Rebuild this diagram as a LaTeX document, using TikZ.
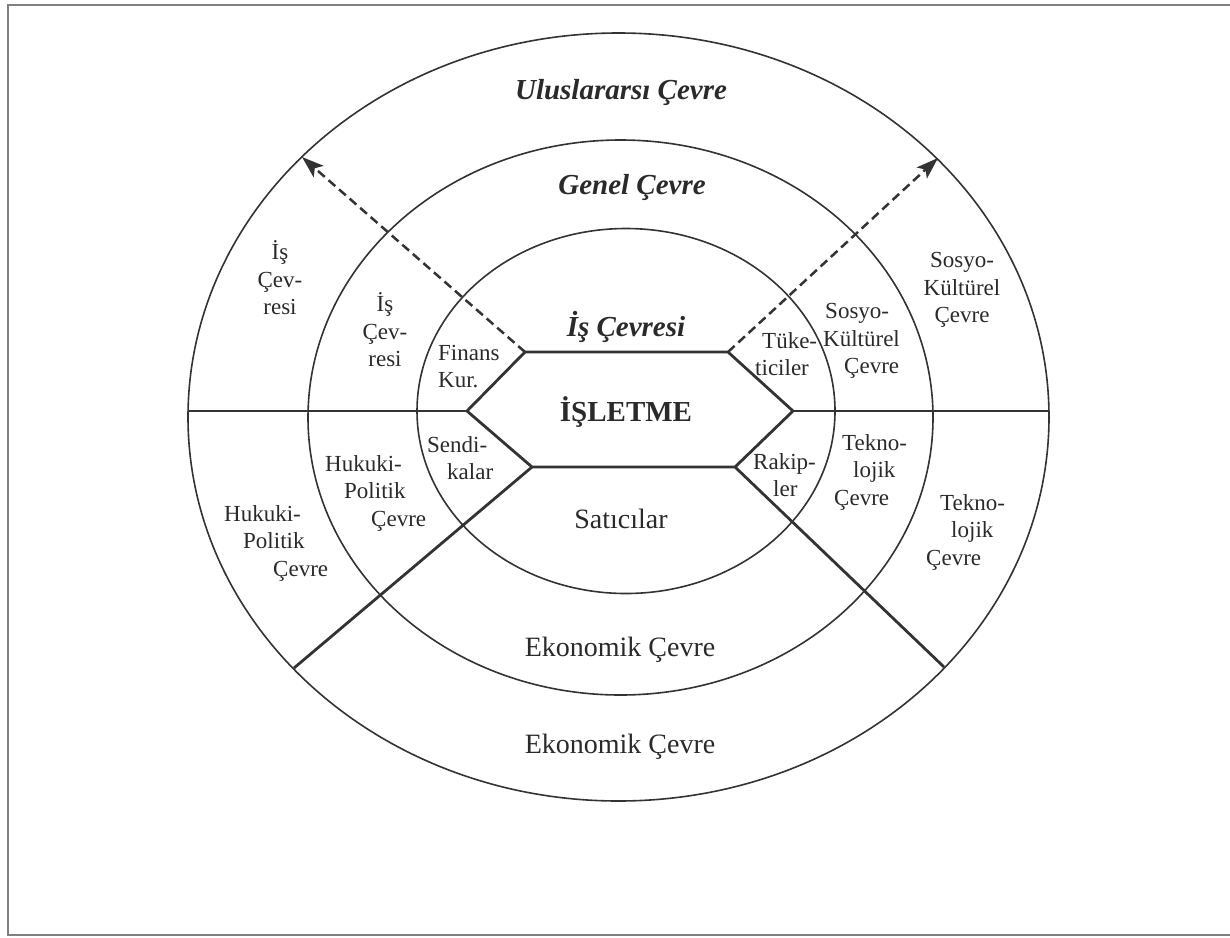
\documentclass[tikz,border=0pt]{standalone}
\usepackage{fontspec}
\setmainfont{Liberation Serif}
\usetikzlibrary{arrows.meta}
\definecolor{ink}{HTML}{333333}
\definecolor{txt}{HTML}{2A2A2A}
\definecolor{frmgray}{HTML}{808080}
\begin{document}
\begin{tikzpicture}[x=1pt,y=-1pt,
  ring/.style={draw=ink,line width=1.6pt},
  heavy/.style={draw=ink,line width=2.8pt,line join=miter},
  dasharrow/.style={draw=ink,line width=2.5pt,dash pattern=on 9pt off 5pt,-{Stealth[length=22pt,width=15pt,inset=5pt]}},
  small/.style={text=txt,inner sep=0pt,font={\fontsize{23pt}{27.5pt}\selectfont}},
  big/.style={text=txt,inner sep=0pt,font={\fontsize{28pt}{32pt}\selectfont}},
  title/.style={text=txt,inner sep=0pt,font={\fontsize{29pt}{33pt}\selectfont\bfseries\itshape}},
  core/.style={text=txt,inner sep=0pt,font={\fontsize{29pt}{33pt}\selectfont\bfseries}}]
\useasboundingbox (0,0) rectangle (1230,937);
% frame
\draw[draw=frmgray,line width=1.5pt] (1230,5) -- (8,5) -- (8,935) -- (1230,935);
% rings
\draw[ring] (618.5,417) ellipse [x radius=430.5, y radius=384];
\draw[ring] (620.5,417.5) ellipse [x radius=312.5, y radius=277.5];
\draw[ring] (626,411) ellipse [x radius=209, y radius=182.5];
% hexagon corners
\coordinate (hL) at (467,411);
\coordinate (hTL) at (525,352);
\coordinate (hTR) at (728,352);
\coordinate (hR) at (793,411);
\coordinate (hBR) at (735,467);
\coordinate (hBL) at (532,467);
% end points on the outer ring
\coordinate (oL) at (188,411);
\coordinate (oR) at (1049,411);
\coordinate (oLL) at (294,668);
\coordinate (oLR) at (944,667);
\coordinate (oUL) at (302,157);
\coordinate (oUR) at (938,158);
% hexagon and dividers
\draw[heavy] (hL) -- (hTL) -- (hTR) -- (hR) -- (hBR) -- (hBL) -- cycle;
\draw[heavy] (oL) -- (hL);
\draw[heavy] (hR) -- (oR);
\draw[heavy] (hBL) -- (oLL);
\draw[heavy] (hBR) -- (oLR);
\draw[dasharrow] (hTL) -- (oUL);
\draw[dasharrow] (hTR) -- (oUR);
% titles
\node[title] (uc) at (621,92) {Uluslararsı Çevre};
\node[title] (gc) at (632,187) {Genel Çevre};
\node[title] (ic) at (626,327) {İş Çevresi};
\node[core] (isl) at (626,412) {İŞLETME};
\node[big] (sat) at (621,519) {Satıcılar};
\node[big] (ek2) at (620,650) {Ekonomik Çevre};
\node[big] (ek1) at (620,747) {Ekonomik Çevre};
% sector labels
\node[small,align=center] (is1) at (280,278) {İş\\Çev-\\resi};
\node[small,align=center] (is2) at (385,330) {İş\\Çev-\\resi};
\node[small,align=left,anchor=west] (fin) at (438,366.5) {Finans\\Kur.};
\node[small,align=left,anchor=west] (sen) at (427,458) {Sendi-\\\hspace*{20pt}kalar};
\node[small,align=left,anchor=west] (tuk) at (755,354) {\hspace*{7pt}Tüke-\\ticiler};
\node[small,align=left,anchor=west] (rak) at (753,475) {Rakip-\\\hspace*{20pt}ler};
\node[small,align=left,anchor=west] (sk2) at (823,341) {\hspace*{2pt}Sosyo-\\Kültürel\\\hspace*{21pt}Çevre};
\node[small,align=center] (sk1) at (962,290) {Sosyo-\\Kültürel\\Çevre};
\node[small,align=left,anchor=west] (hp2) at (325,493) {Hukuki-\\\hspace*{19pt}Politik\\\hspace*{46pt}Çevre};
\node[small,align=left,anchor=west] (hp1) at (224,543) {Hukuki-\\\hspace*{19pt}Politik\\\hspace*{49pt}Çevre};
\node[small,align=left,anchor=west] (tk2) at (834,472) {\hspace*{8pt}Tekno-\\\hspace*{19pt}lojik\\Çevre};
\node[small,align=left,anchor=west] (tk1) at (926,532) {\hspace*{14pt}Tekno-\\\hspace*{25pt}lojik\\Çevre};
\end{tikzpicture}
\end{document}
